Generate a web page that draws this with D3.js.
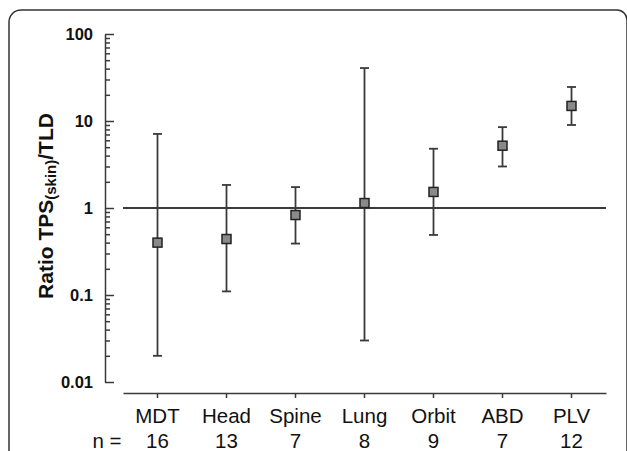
<!DOCTYPE html>
<html>
<head>
<meta charset="utf-8">
<script src="https://cdn.jsdelivr.net/npm/d3@7"></script>
<style>
  html, body { margin: 0; padding: 0; background: #fff; }
  svg { display: block; font-family: Arial, "Liberation Sans", sans-serif; }
</style>
</head>
<body>
<div id="chart"></div>
<script>
// Ratio TPS(skin)/TLD per site: median with min/max range
const sites = ["MDT", "Head", "Spine", "Lung", "Orbit", "ABD", "PLV"];
const counts = [16, 13, 7, 8, 9, 7, 12];
const medians = [0.40, 0.44, 0.83, 1.14, 1.53, 5.2, 14.9];
const lows = [0.02, 0.11, 0.39, 0.03, 0.49, 3.0, 9.0];
const highs = [7.1, 1.84, 1.74, 40.6, 4.8, 8.5, 24.6];
const majorTicks = [0.01, 0.1, 1, 10, 100];
const tickLabels = ["0.01", "0.1", "1", "10", "100"];

const width = 627;
const height = 451;
const lineColor = "#3a3a3a";
const markerFill = "#8a8a8a";

var svg = d3.select("#chart").append("svg")
    .attr("width", width)
    .attr("height", height);

// rounded frame around the figure
svg.append("path")
    .attr("d", "M9,470 V22 A12,12 0 0 1 21,10 H617 A10,10 0 0 1 627,20 V470")
    .attr("fill", "none")
    .attr("stroke", "#333")
    .attr("stroke-width", 1.5);

var y = d3.scaleLog().domain([0.01, 100]).range([382, 34]);
var x = d3.scaleBand().domain(sites).range([123, 606]);
function cx(d) { return x(d) + x.bandwidth() / 2; }

// minor ticks
var minorVals = [];
majorTicks.slice(0, -1).forEach(function(m) {
    for (var k = 2; k <= 9; k++) minorVals.push(m * k);
});

var yAxisG = svg.append("g").attr("transform", "translate(105,0)");
yAxisG.call(d3.axisLeft(y).tickValues(minorVals).tickSize(-5)
        .tickFormat("").tickSizeOuter(0))
    .call(function(g) { g.select(".domain").remove(); });
yAxisG.append("g")
    .call(d3.axisLeft(y).tickValues(majorTicks).tickSize(-9).tickSizeOuter(0)
        .tickPadding(12)
        .tickFormat(function(d, i) { return tickLabels[i]; }));
yAxisG.selectAll("line, path").attr("stroke", lineColor).attr("stroke-width", 1.5);
yAxisG.selectAll("text")
    .attr("fill", "#111")
    .style("font-size", "16.5px")
    .style("font-weight", "bold")
    .style("font-family", "Arial, 'Liberation Sans', sans-serif");

// x axis
var xAxisG = svg.append("g").attr("transform", "translate(0,393)")
    .call(d3.axisBottom(x).tickSize(5).tickSizeOuter(0).tickFormat(""));
xAxisG.selectAll("line, path").attr("stroke", lineColor).attr("stroke-width", 1.5);

// category labels and n row
svg.append("g").selectAll("text.site")
    .data(sites)
    .join("text")
    .attr("class", "site")
    .attr("x", cx)
    .attr("y", 423)
    .attr("text-anchor", "middle")
    .attr("fill", "#111")
    .style("font-size", "20.5px")
    .text(function(d) { return d; });
svg.append("g").selectAll("text.n")
    .data(sites)
    .join("text")
    .attr("class", "n")
    .attr("x", cx)
    .attr("y", 448)
    .attr("text-anchor", "middle")
    .attr("fill", "#111")
    .style("font-size", "20.5px")
    .text(function(d, i) { return counts[i]; });
svg.append("text")
    .attr("x", 107)
    .attr("y", 448)
    .attr("text-anchor", "middle")
    .attr("fill", "#111")
    .style("font-size", "20.5px")
    .text("n =");

// y label
var ylab = svg.append("text")
    .attr("transform", "translate(53,206) rotate(-90)")
    .attr("text-anchor", "middle")
    .attr("fill", "#111")
    .style("font-size", "21px")
    .style("font-weight", "bold");
ylab.append("tspan").text("Ratio TPS");
ylab.append("tspan").attr("dy", 3).style("font-size", "15px").text("(skin)");
ylab.append("tspan").attr("dy", -3).text("/TLD");

// reference line at ratio 1
svg.append("line")
    .attr("x1", 123).attr("x2", 606)
    .attr("y1", y(1)).attr("y2", y(1))
    .attr("stroke", lineColor)
    .attr("stroke-width", 2);

// error bars
var bars = svg.append("g").selectAll("g")
    .data(sites)
    .join("g")
    .attr("stroke", lineColor)
    .attr("stroke-width", 1.8);
bars.append("line")
    .attr("x1", cx).attr("x2", cx)
    .attr("y1", function(d, i) { return y(lows[i]); })
    .attr("y2", function(d, i) { return y(highs[i]); });
bars.append("line")
    .attr("x1", function(d) { return cx(d) - 4.5; })
    .attr("x2", function(d) { return cx(d) + 4.5; })
    .attr("y1", function(d, i) { return y(highs[i]); })
    .attr("y2", function(d, i) { return y(highs[i]); });
bars.append("line")
    .attr("x1", function(d) { return cx(d) - 4.5; })
    .attr("x2", function(d) { return cx(d) + 4.5; })
    .attr("y1", function(d, i) { return y(lows[i]); })
    .attr("y2", function(d, i) { return y(lows[i]); });
bars.append("rect")
    .attr("x", function(d) { return cx(d) - 4.5; })
    .attr("y", function(d, i) { return y(medians[i]) - 4.5; })
    .attr("width", 9)
    .attr("height", 9)
    .attr("fill", markerFill)
    .attr("stroke", "#222")
    .attr("stroke-width", 1.5);
</script>
</body>
</html>
